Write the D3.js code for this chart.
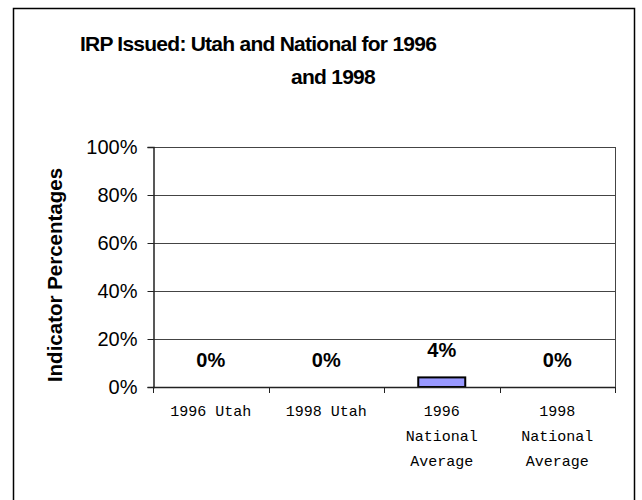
<!DOCTYPE html>
<html>
<head>
<meta charset="utf-8">
<script src="https://cdn.jsdelivr.net/npm/d3@7"></script>
<style>
  html, body { margin: 0; padding: 0; background: #fff; }
  svg { display: block; }
</style>
</head>
<body>
<svg id="chart" width="642" height="500"></svg>
<script>
// ---- data ----
const categories = [["1996 Utah"], ["1998 Utah"], ["1996", "National", "Average"], ["1998", "National", "Average"]];
const values = [0, 0, 0.04, 0];
const yTicks = [0, 0.2, 0.4, 0.6, 0.8, 1.0];
const titleLines = ["IRP Issued: Utah and National for 1996", "and 1998"];
const yTitle = "Indicator Percentages";

const svg = d3.select("#chart");
const W = 642, H = 500;
const plot = { left: 153, right: 615, top: 147, bottom: 387 };

svg.append("rect").attr("x", 0).attr("y", 0).attr("width", W).attr("height", H).attr("fill", "#fff");
// outer border (bottom edge falls outside the picture)
svg.append("rect").attr("x", 13.5).attr("y", 8.5).attr("width", 621).attr("height", 500)
  .attr("fill", "none").attr("stroke", "#000").attr("stroke-width", 1.5);

const x = d3.scaleBand().domain(d3.range(categories.length)).range([plot.left, plot.right]).paddingInner(0).paddingOuter(0);
const y = d3.scaleLinear().domain([0, 1]).range([plot.bottom, plot.top]);

// gridlines
svg.append("g").selectAll("line").data(yTicks.filter(d => d > 0)).join("line")
  .attr("x1", plot.left).attr("x2", plot.right)
  .attr("y1", d => Math.round(y(d)) + 0.5).attr("y2", d => Math.round(y(d)) + 0.5)
  .attr("stroke", "#444").attr("stroke-width", 1);
// right border of plot
svg.append("line").attr("x1", plot.right + 0.5).attr("x2", plot.right + 0.5)
  .attr("y1", plot.top).attr("y2", plot.bottom).attr("stroke", "#444");

// bars
const barW = 47;
svg.append("g").selectAll("rect").data(values).join("rect")
  .attr("x", (d, i) => x(i) + x.bandwidth() / 2 - barW / 2)
  .attr("y", d => y(d))
  .attr("width", barW)
  .attr("height", d => y(0) - y(d))
  .attr("fill", "#9999FF").attr("stroke", "#000").attr("stroke-width", d => d > 0 ? 2 : 0);

// data labels
svg.append("g").selectAll("text").data(values).join("text")
  .attr("x", (d, i) => x(i) + x.bandwidth() / 2)
  .attr("y", d => y(d) - 20)
  .attr("text-anchor", "middle")
  .attr("font-family", "Liberation Sans, Arial, sans-serif")
  .attr("font-weight", "bold").attr("font-size", 20)
  .text(d => d3.format(".0%")(d));

// y axis
const yAxis = d3.axisLeft(y).tickValues(yTicks).tickFormat(d3.format(".0%")).tickSize(6).tickPadding(10);
const gy = svg.append("g").attr("transform", `translate(${plot.left + 0.5},0)`).call(yAxis);
gy.select(".domain").attr("stroke", "#222").attr("stroke-width", 1.5);
gy.selectAll(".tick line").attr("stroke", "#222");
gy.selectAll(".tick text").attr("font-family", "Liberation Sans, Arial, sans-serif")
  .attr("font-size", 20).attr("fill", "#000");

// x axis
const boundaries = d3.range(categories.length + 1).map(i => plot.left + i * x.bandwidth());
const gx = svg.append("g");
gx.append("line").attr("x1", plot.left).attr("x2", plot.right)
  .attr("y1", plot.bottom + 0.5).attr("y2", plot.bottom + 0.5).attr("stroke", "#222").attr("stroke-width", 1.5);
gx.selectAll("line.tk").data(boundaries).join("line").attr("class", "tk")
  .attr("x1", d => Math.round(d) + 0.5).attr("x2", d => Math.round(d) + 0.5)
  .attr("y1", plot.bottom).attr("y2", plot.bottom + 6).attr("stroke", "#222");
const xl = gx.selectAll("text.xl").data(categories).join("text").attr("class", "xl")
  .attr("text-anchor", "middle")
  .attr("font-family", "Liberation Mono, Courier New, monospace")
  .attr("font-size", 15).attr("fill", "#000");
xl.each(function(lines, i) {
  d3.select(this).selectAll("tspan").data(lines).join("tspan")
    .attr("x", x(i) + x.bandwidth() / 2)
    .attr("y", (l, j) => 416 + j * 25)
    .text(l => l);
});

// title
svg.append("text").attr("x", 258).attr("y", 51).attr("text-anchor", "middle")
  .attr("font-family", "Liberation Sans, Arial, sans-serif").attr("font-weight", "bold").attr("font-size", 21)
  .attr("letter-spacing", -0.75)
  .text(titleLines[0]);
svg.append("text").attr("x", 333).attr("y", 84).attr("text-anchor", "middle")
  .attr("font-family", "Liberation Sans, Arial, sans-serif").attr("font-weight", "bold").attr("font-size", 21)
  .attr("letter-spacing", -0.75)
  .text(titleLines[1]);

// y title
svg.append("text").attr("transform", "translate(62,275) rotate(-90)").attr("text-anchor", "middle")
  .attr("font-family", "Liberation Sans, Arial, sans-serif").attr("font-weight", "bold").attr("font-size", 20.5)
  .text(yTitle);
</script>
</body>
</html>
